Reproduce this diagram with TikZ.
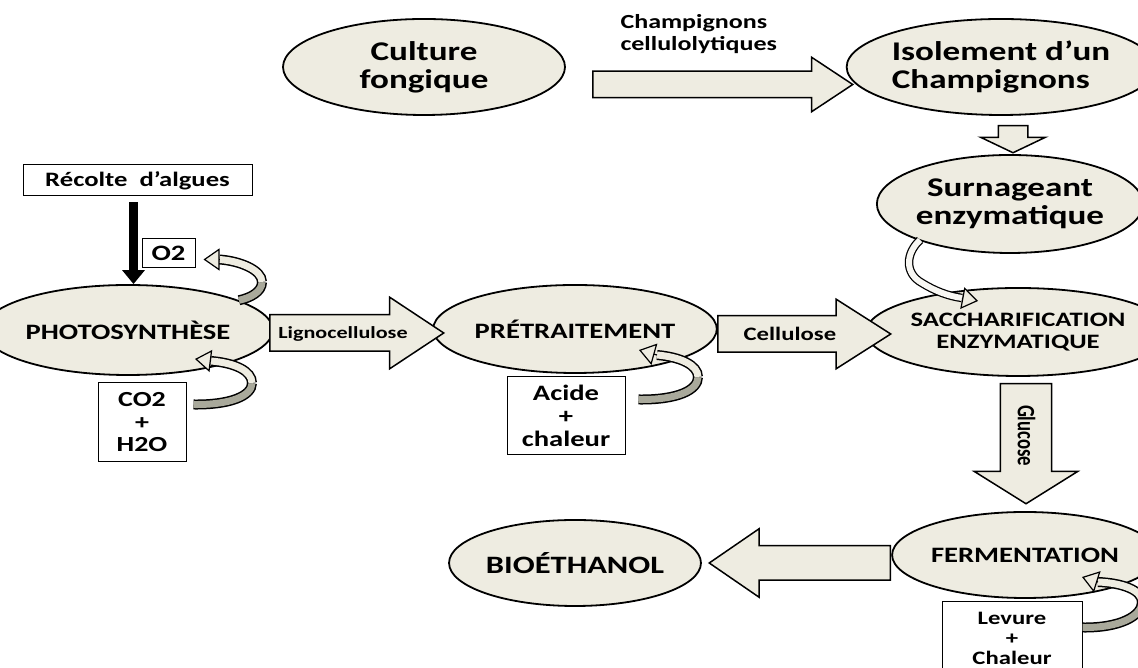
\documentclass[tikz,border=0pt]{standalone}
\usepackage{fontspec}
\setmainfont{Carlito}[FakeStretch=1.3]
\newfontfamily\glufont{Carlito}[FakeStretch=0.75]
\usetikzlibrary{shapes.geometric,shapes.arrows,arrows.meta,calc}
\definecolor{creme}{HTML}{EEECE1}
\definecolor{ombre}{HTML}{A9A99B}

\begin{document}
\begin{tikzpicture}[x=1pt, y=1pt,
    ovale/.style={ellipse, draw, fill=creme, line width=1.8pt, inner sep=0pt, align=center},
    boite/.style={rectangle, draw, fill=white, line width=1pt, inner sep=0pt, align=center},
    fleche/.style={single arrow, draw, fill=creme, line width=1.5pt, inner xsep=0pt, anchor=tail},
    bande/.style={draw=#1, line width=7pt, preaction={draw=black, line width=10pt}},
    tete/.style={line width=1.2pt, -{Triangle[length=16pt, width=22pt, fill=creme]}}]
    \useasboundingbox[fill=white] (0,0) rectangle (1138,668);
    % étapes (ellipses)
    \node (culture) at (424,601)[ovale, minimum width=282pt, minimum height=96pt, font=\bfseries\fontsize{27}{28}\selectfont] {Culture\\fongique};
    \node (isol) at (1001,601)[ovale, minimum width=272pt, minimum height=96pt, align=left, font=\bfseries\fontsize{27}{28}\selectfont] {Isolement d’un\\Champignons};
    \node (surn) at (1010,464)[ovale, minimum width=254pt, minimum height=98pt, font=\bfseries\fontsize{27}{28}\selectfont] {Surnageant\\enzymatique};
    \node (sacch) at (1018,336)[ovale, minimum width=236pt, minimum height=88pt, font=\bfseries\fontsize{20.5}{22}\selectfont] {SACCHARIFICATION\\ENZYMATIQUE};
    \node (photo) at (128,338)[ovale, minimum width=236pt, minimum height=90pt, font=\bfseries\fontsize{22}{23}\selectfont] {PHOTOSYNTHÈSE};
    \node (pret) at (575,339)[ovale, minimum width=246pt, minimum height=88pt, font=\bfseries\fontsize{22}{23}\selectfont] {PRÉTRAITEMENT};
    \node (ferm) at (1025,113)[ovale, minimum width=246pt, minimum height=86pt, font=\bfseries\fontsize{22}{23}\selectfont] {FERMENTATION};
    \node (bio) at (575,105)[ovale, minimum width=246pt, minimum height=86pt, font=\bfseries\fontsize{25}{26}\selectfont] {BIOÉTHANOL};
    % encadrés
    \node (recolte) at (137.5,487.5)[boite, minimum width=229pt, minimum height=31pt, font=\bfseries\fontsize{20.5}{22}\selectfont] {Récolte\ \ d’algues};
    \node (o2) at (168.5,414.5)[boite, minimum width=53pt, minimum height=29pt, font=\bfseries\fontsize{22}{23}\selectfont] {O2};
    \node (co2) at (142,245.5)[boite, minimum width=88pt, minimum height=79pt, font=\bfseries\fontsize{21.5}{22.5}\selectfont] {CO2\\+\\H2O};
    \node (acide) at (566,252)[boite, minimum width=118pt, minimum height=78pt, font=\bfseries\fontsize{22}{23}\selectfont] {Acide\\+\\chaleur};
    \node (levure) at (1012,30)[boite, minimum width=140pt, minimum height=72pt, font=\bfseries\fontsize{19}{20}\selectfont] {Levure\\+\\Chaleur};
    % flèches pleines
    \node (champ) at (592,583.5)[fleche, minimum height=260pt, inner ysep=12.5pt, single arrow head extend=14pt, single arrow tip angle=67] {};
    \node (champtxt) at (617,634)[anchor=west, align=left, font=\bfseries\fontsize{20}{22}\selectfont] {Champignons\\cellulolytiques};
    \node (descente) at (1013,543)[fleche, rotate=-90, minimum height=27pt, inner ysep=14pt, single arrow head extend=17.5pt, single arrow tip angle=129] {};
    \node (ligno) at (269,335)[fleche, minimum height=174pt, text height=12pt, text depth=1pt, inner ysep=11pt, single arrow head extend=17.5pt, single arrow tip angle=67, font=\bfseries\fontsize{17}{18}\selectfont] {Lignocellulose};
    \node (cellu) at (717,334)[fleche, minimum height=173pt, text height=13.3pt, text depth=1pt, inner ysep=10.35pt, single arrow head extend=16.5pt, single arrow tip angle=65, font=\bfseries\fontsize{19}{20}\selectfont] {Cellulose};
    \node (glucose) at (1026,285)[fleche, rotate=-90, minimum height=120pt, text height=17.5pt, text depth=1.25pt, inner ysep=15.6pt, single arrow head extend=26pt, single arrow tip angle=116, font=\glufont\bfseries\fontsize{25}{26}\selectfont] {Glucose};
    \node (retour) at (891,105)[fleche, rotate=180, minimum height=181pt, inner ysep=16.5pt, single arrow head extend=17pt, single arrow tip angle=69] {};
    % récolte -> photosynthèse
    \draw[line width=9pt, -{Triangle[length=14pt, width=22pt]}] ([xshift=-4pt, yshift=-6pt]recolte.south) -- ([xshift=-4pt]recolte.south |- photo.north);
    % flèches courbes
    \draw[bande=ombre] (photo.15) .. controls (250,370) and (262,376) .. (262,386);
    \draw[bande=creme] (262,386) .. controls (262,398) and (240,407) .. ($(o2.east)+(24,-6)$);
    \draw[tete] ($(o2.east)+(24,-6)$) -- ($(o2.east)+(8,-6)$);
    \draw[bande=ombre] ($(co2.north east)+(7,-22)$) .. controls (230,263) and (252,272) .. (252,285);
    \draw[bande=creme] (252,285) .. controls (252,297) and (235,305) .. ($(photo.center)+(83,-31)$);
    \draw[tete] ($(photo.center)+(83,-31)$) -- ($(photo.center)+(67,-29)$);
    \draw[bande=ombre] ($(acide.north east)+(13,-23)$) .. controls (678,268) and (698,278) .. (698,291);
    \draw[bande=creme] (698,291) .. controls (698,303) and (680,311) .. ($(pret.center)+(82,-26)$);
    \draw[tete] ($(pret.center)+(82,-26)$) -- ($(pret.center)+(64,-21)$);
    \draw[bande=ombre] ($(levure.north east)+(0,-26)$) .. controls (1120,40) and (1142,52) .. (1142,66);
    \draw[bande=creme] (1142,66) .. controls (1142,78) and (1122,85) .. ($(ferm.center)+(73,-27)$);
    \draw[tete] ($(ferm.center)+(73,-27)$) -- ($(ferm.center)+(57,-22)$);
    \draw[draw=creme!40!white, line width=6pt, preaction={draw=black, line width=8.5pt}] ($(surn.center)+(-90,-36)$) .. controls (906,415) and (904,395) .. (922,385) .. controls (935,377) and (948,372) .. ($(sacch.center)+(-56,34)$);
    \draw[tete] ($(sacch.center)+(-56,34)$) -- ($(sacch.center)+(-40,31)$);
\end{tikzpicture}
\end{document}
